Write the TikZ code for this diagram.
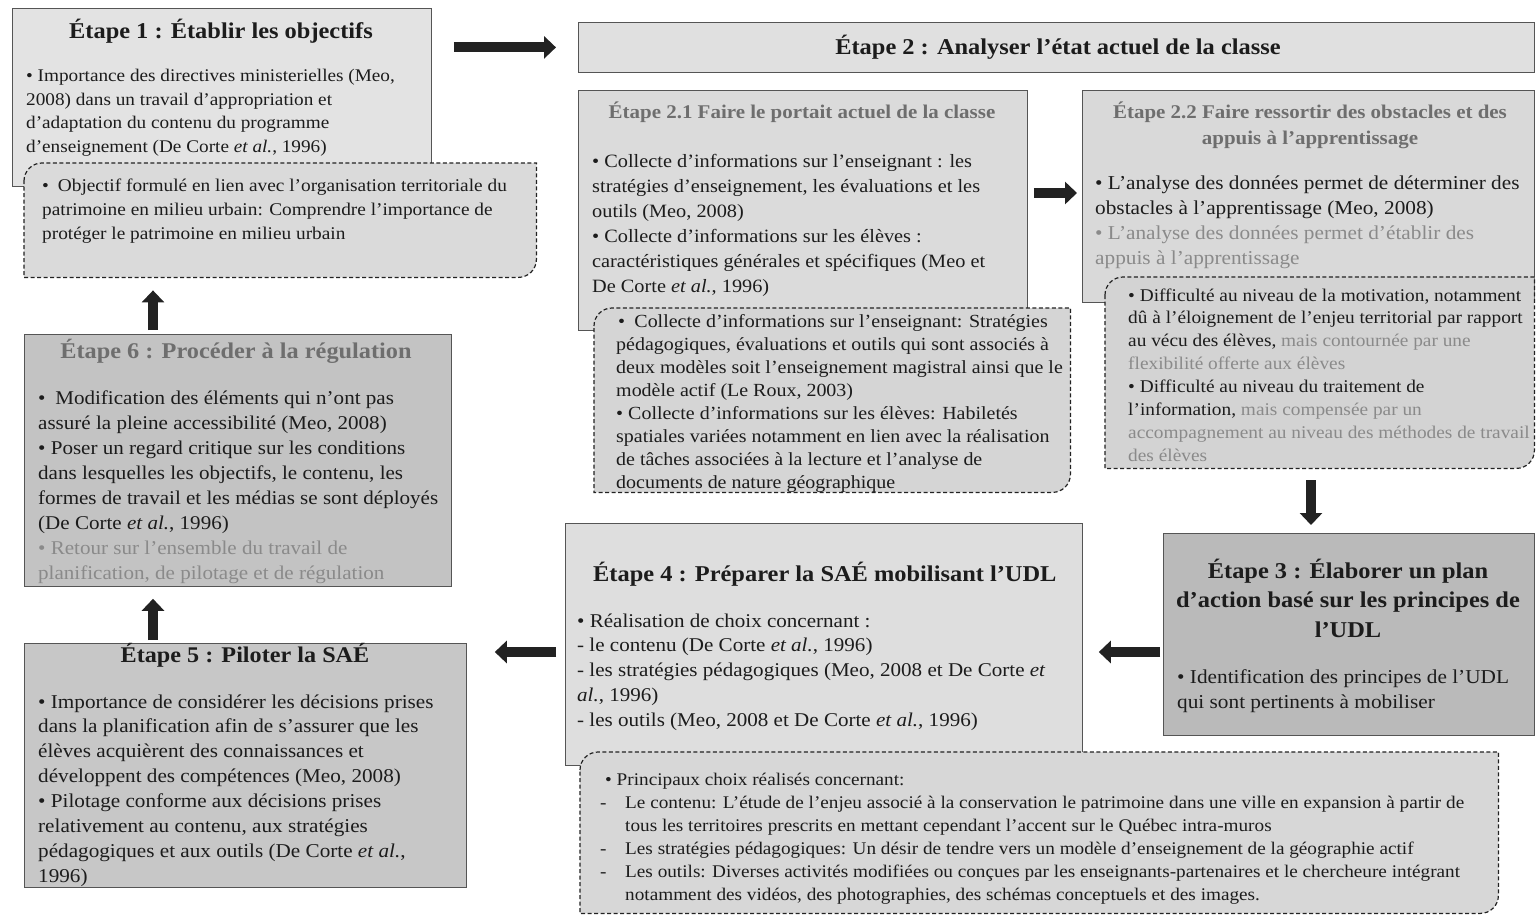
\documentclass[tikz,border=0pt]{standalone}
\usepackage{fontspec}
\setmainfont{Liberation Serif}[FakeStretch=1.08]
\usetikzlibrary{arrows.meta}
\definecolor{ink}{HTML}{1C1C1C}
\definecolor{soft}{HTML}{8A8A8A}
\definecolor{softt}{HTML}{6E6E6E}
\definecolor{boxline}{HTML}{555555}
\definecolor{arr}{HTML}{222222}
\definecolor{fA}{HTML}{E3E3E3}
\definecolor{fAd}{HTML}{DADADA}
\definecolor{fB}{HTML}{E0E0E0}
\definecolor{fBa}{HTML}{DBDBDB}
\definecolor{fBad}{HTML}{D5D5D5}
\definecolor{fBb}{HTML}{D9D9D9}
\definecolor{fBbd}{HTML}{D3D3D3}
\definecolor{fC}{HTML}{BABABA}
\definecolor{fD}{HTML}{DEDEDE}
\definecolor{fDd}{HTML}{D7D7D7}
\definecolor{fE}{HTML}{C7C7C7}
\definecolor{fF}{HTML}{C3C3C3}
\newcommand{\fz}[2]{\fontsize{#1}{#2}\selectfont}
\newcommand{\tl}[1]{\begin{tabular}[t]{@{}l@{}}#1\end{tabular}}
\newcommand{\tc}[1]{\begin{tabular}[t]{@{}c@{}}#1\end{tabular}}
\newcommand{\rdash}[3]{%
  \path[dbox, fill=#2] ([yshift=-#3]#1.north west) arc[start angle=180,end angle=90,radius=#3]
    -- (#1.north east) -- ([yshift=#3]#1.south east) arc[start angle=0,end angle=-90,radius=#3]
    -- (#1.south west) -- cycle;}
\begin{document}
\begin{tikzpicture}[x=1pt,y=1pt,
  stepbox/.style={draw=boxline, line width=0.8pt, anchor=north west, inner sep=0pt},
  holder/.style={anchor=north west, inner sep=0pt},
  dbox/.style={draw=arr, line width=1.2pt, dash pattern=on 4pt off 2.5pt},
  txt/.style={anchor=base west, inner sep=0pt, text=ink},
  ttl/.style={anchor=base, inner sep=0pt, text=ink},
  bigarrow/.style={draw=arr, line width=10pt, -{Triangle[length=12pt,width=22pt]}}]
\useasboundingbox (0,0) rectangle (1536,-915);
\fill[white] (0,0) rectangle (1536,-915);

% ---------- boxes ----------
\node[stepbox, fill=fA, minimum width=419pt, minimum height=178pt] (e1) at (12,-8) {};
\node[stepbox, fill=fB, minimum width=956pt, minimum height=50pt] (e2) at (578,-22) {};
\node[stepbox, fill=fBa, minimum width=449pt, minimum height=240pt] (e21) at (578,-90) {};
\node[stepbox, fill=fBb, minimum width=452pt, minimum height=212pt] (e22) at (1082,-90) {};
\node[stepbox, fill=fC, minimum width=371pt, minimum height=202pt] (e3) at (1163,-533) {};
\node[stepbox, fill=fD, minimum width=517pt, minimum height=242pt] (e4) at (565,-523) {};
\node[stepbox, fill=fE, minimum width=442pt, minimum height=244pt] (e5) at (24,-643) {};
\node[stepbox, fill=fF, minimum width=427pt, minimum height=252pt] (e6) at (24,-334) {};

% ---------- dashed boxes ----------
\node[holder, minimum width=512pt, minimum height=114pt] (d1) at (24,-163) {};
\node[holder, minimum width=476pt, minimum height=184pt] (d21) at (594,-308) {};
\node[holder, minimum width=429pt, minimum height=191pt] (d22) at (1105,-277) {};
\node[holder, minimum width=918pt, minimum height=161pt] (d4) at (580,-752) {};
\rdash{d1}{fAd}{18pt}
\rdash{d21}{fBad}{18pt}
\rdash{d22}{fBbd}{18pt}
\rdash{d4}{fDd}{18pt}

% ---------- Etape 1 ----------
\node[ttl, font={\fz{22.6}{26}\bfseries}] (t1) at (221,-39) {Étape 1 : Établir les objectifs};
\node[txt, font=\fz{17.8}{23.5}] (b1) at (26,-82) {\tl{• Importance des directives ministerielles (Meo,\\
2008) dans un travail d’appropriation et\\
d’adaptation du contenu du programme\\
d’enseignement (De Corte \textit{et al.}, 1996)}};
\node[txt, font=\fz{17.9}{24}] (b1d) at (42,-191) {\tl{•\enspace Objectif formulé en lien avec l’organisation territoriale du\\
patrimoine en milieu urbain: Comprendre l’importance de\\
protéger le patrimoine en milieu urbain}};

% ---------- Etape 2 ----------
\node[ttl, font={\fz{22.6}{26}\bfseries}] (t2) at (1058,-55) {Étape 2 : Analyser l’état actuel de la classe};
\node[ttl, font={\fz{19.4}{25}\bfseries}, text=softt] (t21) at (802,-119) {Étape 2.1 Faire le portait actuel de la classe};
\node[txt, font=\fz{18.8}{25.2}] (b21) at (592,-167) {\tl{• Collecte d’informations sur l’enseignant : les\\
stratégies d’enseignement, les évaluations et les\\
outils (Meo, 2008)\\
• Collecte d’informations sur les élèves :\\
caractéristiques générales et spécifiques (Meo et\\
De Corte \textit{et al.}, 1996)}};
\node[txt, font=\fz{18.5}{23}] (b21d) at (616,-327) {\tl{\hspace*{2pt}•\enspace Collecte d’informations sur l’enseignant: Stratégies\\
pédagogiques, évaluations et outils qui sont associés à\\
deux modèles soit l’enseignement magistral ainsi que le\\
modèle actif (Le Roux, 2003)\\
• Collecte d’informations sur les élèves: Habiletés\\
spatiales variées notamment en lien avec la réalisation\\
de tâches associées à la lecture et l’analyse de\\
documents de nature géographique}};

\node[ttl, font={\fz{19.4}{25}\bfseries}, text=softt] (t22) at (1310,-119) {\tc{Étape 2.2 Faire ressortir des obstacles et des\\
appuis à l’apprentissage}};
\node[txt, font=\fz{19.7}{25}] (b22) at (1095,-189) {\tl{• L’analyse des données permet de déterminer des\\
obstacles à l’apprentissage (Meo, 2008)\\
\textcolor{soft}{• L’analyse des données permet d’établir des}\\
\textcolor{soft}{appuis à l’apprentissage}}};
\node[txt, font=\fz{17.9}{22.9}] (b22d) at (1128,-301) {\tl{• Difficulté au niveau de la motivation, notamment\\
dû à l’éloignement de l’enjeu territorial par rapport\\
au vécu des élèves, \textcolor{soft}{mais contournée par une}\\
\textcolor{soft}{flexibilité offerte aux élèves}\\
• Difficulté au niveau du traitement de\\
l’information, \textcolor{soft}{mais compensée par un}\\
\textcolor{soft}{accompagnement au niveau des méthodes de travail}\\
\textcolor{soft}{des élèves}}};

% ---------- Etape 3 ----------
\node[ttl, font={\fz{22.6}{29.5}\bfseries}] (t3) at (1348,-578) {\tc{Étape 3 : Élaborer un plan\\
d’action basé sur les principes de\\
l’UDL}};
\node[txt, font=\fz{19.7}{25}] (b3) at (1177,-683) {\tl{• Identification des principes de l’UDL\\
qui sont pertinents à mobiliser}};

% ---------- Etape 4 ----------
\node[txt, font={\fz{22.6}{26}\bfseries}] (t4) at (593,-581) {Étape 4 : Préparer la SAÉ mobilisant l’UDL};
\node[txt, font=\fz{19.5}{24.8}] (b4) at (577,-627) {\tl{• Réalisation de choix concernant :\\
- le contenu (De Corte \textit{et al.}, 1996)\\
- les stratégies pédagogiques (Meo, 2008 et De Corte \textit{et}\\
\textit{al.}, 1996)\\
- les outils (Meo, 2008 et De Corte \textit{et al.}, 1996)}};
\node[txt, font=\fz{17.8}{23}] (b4d) at (600,-785) {\tl{\hspace*{5pt}• Principaux choix réalisés concernant:\\
\makebox[25pt][l]{-}Le contenu: L’étude de l’enjeu associé à la conservation le patrimoine dans une ville en expansion à partir de\\
\hspace*{25pt}tous les territoires prescrits en mettant cependant l’accent sur le Québec intra-muros\\
\makebox[25pt][l]{-}Les stratégies pédagogiques: Un désir de tendre vers un modèle d’enseignement de la géographie actif\\
\makebox[25pt][l]{-}Les outils: Diverses activités modifiées ou conçues par les enseignants-partenaires et le chercheure intégrant\\
\hspace*{25pt}notamment des vidéos, des photographies, des schémas conceptuels et des images.}};

% ---------- Etape 5 ----------
\node[ttl, font={\fz{22.4}{26}\bfseries}] (t5) at (245,-662) {Étape 5 : Piloter la SAÉ};
\node[txt, font=\fz{19.6}{24.9}] (b5) at (38,-708) {\tl{• Importance de considérer les décisions prises\\
dans la planification afin de s’assurer que les\\
élèves acquièrent des connaissances et\\
développent des compétences (Meo, 2008)\\
• Pilotage conforme aux décisions prises\\
relativement au contenu, aux stratégies\\
pédagogiques et aux outils (De Corte \textit{et al.},\\
1996)}};

% ---------- Etape 6 ----------
\node[ttl, font={\fz{22.5}{26}\bfseries}, text=softt] (t6) at (236,-358) {Étape 6 : Procéder à la régulation};
\node[txt, font=\fz{19.5}{25.1}] (b6) at (38,-404) {\tl{•\enspace Modification des éléments qui n’ont pas\\
assuré la pleine accessibilité (Meo, 2008)\\
• Poser un regard critique sur les conditions\\
dans lesquelles les objectifs, le contenu, les\\
formes de travail et les médias se sont déployés\\
(De Corte \textit{et al.}, 1996)\\
\textcolor{soft}{• Retour sur l’ensemble du travail de}\\
\textcolor{soft}{planification, de pilotage et de régulation}}};

% ---------- arrows ----------
\coordinate (r193) at (0,-193);
\coordinate (r652) at (0,-652);
\coordinate (c1311) at (1311,0);
\coordinate (c153) at (153,0);
\draw[bigarrow, shorten <=22pt, shorten >=22pt] (e1.east |- e2.west) -- (e2.west);
\draw[bigarrow, shorten <=6pt, shorten >=5pt] (e21.east |- r193) -- (e22.west |- r193);
\draw[bigarrow, shorten <=12pt, shorten >=8pt] (d22.south -| c1311) -- (e3.north -| c1311);
\draw[bigarrow, shorten <=3pt, shorten >=16pt] (e3.west |- r652) -- (e4.east |- r652);
\draw[bigarrow, shorten <=9pt, shorten >=28pt] (e4.west |- r652) -- (e5.east |- r652);
\draw[bigarrow, shorten <=3pt, shorten >=12pt] (e5.north -| c153) -- (e6.south -| c153);
\draw[bigarrow, shorten <=4pt, shorten >=13pt] (e6.north -| c153) -- (d1.south -| c153);
\end{tikzpicture}
\end{document}
